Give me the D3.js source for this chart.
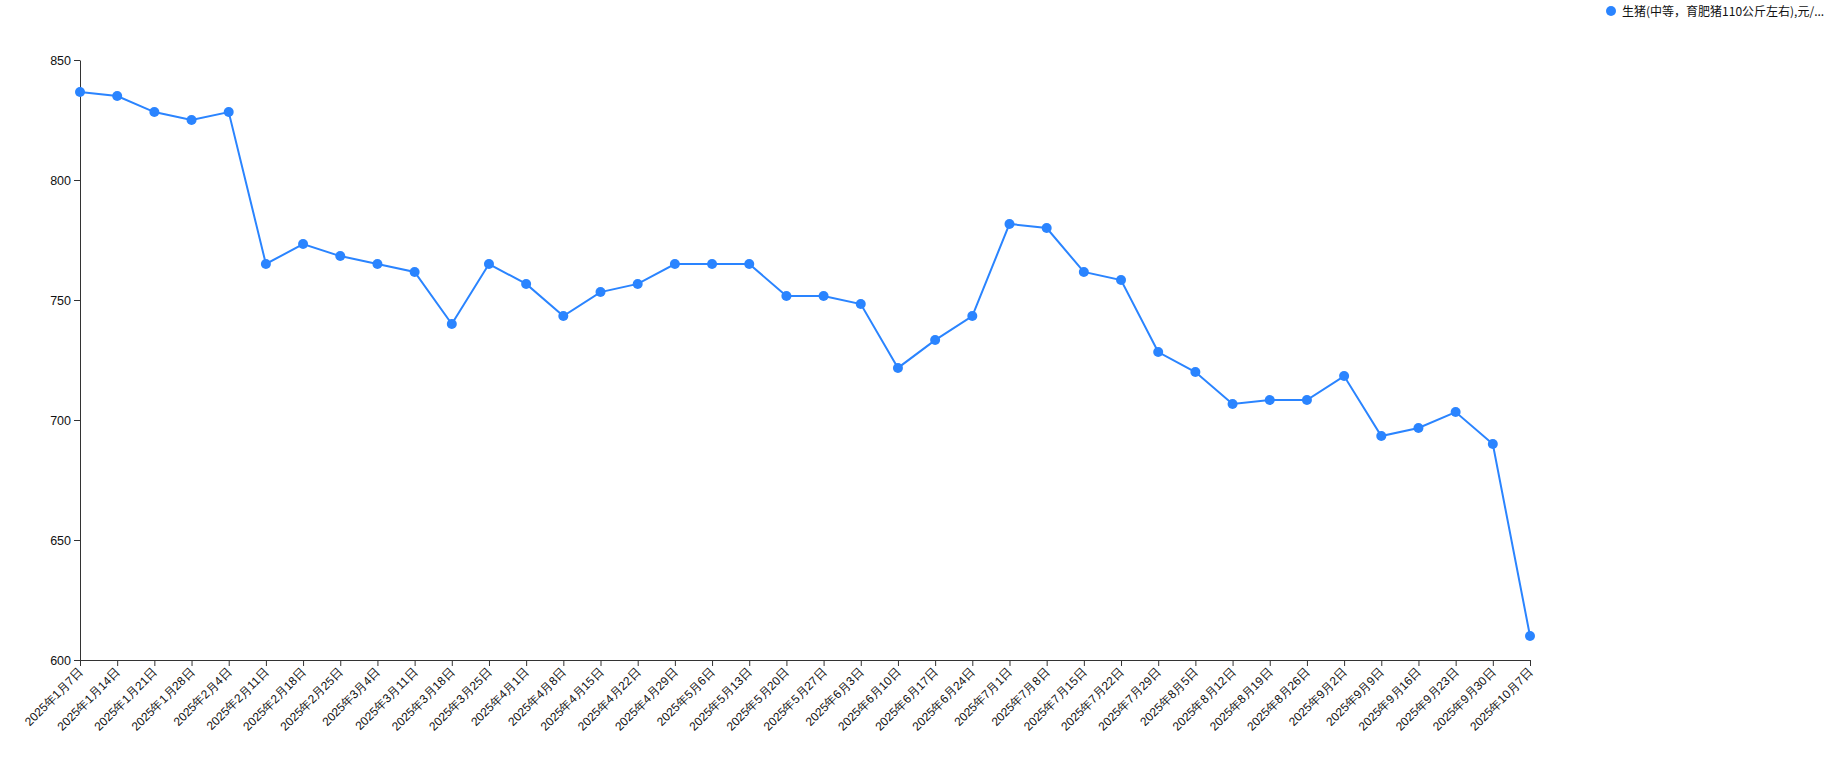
<!DOCTYPE html>
<html>
<head>
<meta charset="utf-8">
<script src="https://cdn.jsdelivr.net/npm/d3@7"></script>
<style>
  html, body { margin: 0; padding: 0; background: #fff; }
  svg { display: block; font-family: "Noto Sans CJK SC", "Noto Sans", sans-serif; }
</style>
</head>
<body>
<svg id="chart" width="1830" height="780"></svg>
<script>
const seriesLabel = "生猪(中等，育肥猪110公斤左右),元/...";
const categories = [
  "2025年1月7日","2025年1月14日","2025年1月21日","2025年1月28日","2025年2月4日",
  "2025年2月11日","2025年2月18日","2025年2月25日","2025年3月4日","2025年3月11日",
  "2025年3月18日","2025年3月25日","2025年4月1日","2025年4月8日","2025年4月15日",
  "2025年4月22日","2025年4月29日","2025年5月6日","2025年5月13日","2025年5月20日",
  "2025年5月27日","2025年6月3日","2025年6月10日","2025年6月17日","2025年6月24日",
  "2025年7月1日","2025年7月8日","2025年7月15日","2025年7月22日","2025年7月29日",
  "2025年8月5日","2025年8月12日","2025年8月19日","2025年8月26日","2025年9月2日",
  "2025年9月9日","2025年9月16日","2025年9月23日","2025年9月30日","2025年10月7日"
];
const values = [
  836.7, 835, 828.3, 825, 828.3,
  765, 773.3, 768.3, 765, 761.7,
  740, 765, 756.7, 743.3, 753.3,
  756.7, 765, 765, 765, 751.7,
  751.7, 748.3, 721.7, 733.3, 743.3,
  781.7, 780, 761.7, 758.3, 728.3,
  720, 706.7, 708.3, 708.3, 718.3,
  693.3, 696.7, 703.3, 690, 610
];
const yTicks = [600, 650, 700, 750, 800, 850];
const yDomain = [600, 850];

const color = "#2a84ff";
const svg = d3.select("#chart");
const xRange = [80, 1530];
const yRange = [660, 60];

const x = d3.scalePoint().domain(categories).range(xRange);
const y = d3.scaleLinear().domain(yDomain).range(yRange);

// Y axis
const yAxis = svg.append("g")
  .attr("transform", `translate(${xRange[0]},0)`)
  .call(d3.axisLeft(y).tickValues(yTicks).tickSize(6).tickPadding(3).tickSizeOuter(0));
yAxis.selectAll("text").attr("font-size", 12.5).attr("fill", "#111");
yAxis.selectAll("line, path").attr("stroke", "#333");

// X axis
const xAxis = svg.append("g")
  .attr("transform", `translate(0,${yRange[0]})`)
  .call(d3.axisBottom(x).tickSize(6).tickSizeOuter(0));
xAxis.selectAll("line, path").attr("stroke", "#333");
xAxis.selectAll("text")
  .attr("font-size", 12)
  .attr("fill", "#111")
  .attr("x", 0).attr("y", 0).attr("dy", 0)
  .attr("text-anchor", "end")
  .attr("transform", "translate(3,13) rotate(-45)");

// Line
const line = d3.line()
  .x((d, i) => x(categories[i]))
  .y(d => y(d));
svg.append("path")
  .datum(values)
  .attr("fill", "none")
  .attr("stroke", color)
  .attr("stroke-width", 2)
  .attr("d", line);

// Points
svg.append("g").selectAll("circle")
  .data(values)
  .join("circle")
  .attr("cx", (d, i) => x(categories[i]))
  .attr("cy", d => y(d))
  .attr("r", 5)
  .attr("fill", color);

// Legend
const legend = svg.append("g").attr("transform", "translate(1611,11)");
legend.append("circle").attr("r", 5).attr("fill", color);
legend.append("text")
  .attr("x", 11).attr("y", 4.5)
  .attr("font-size", 12)
  .attr("fill", "#111")
  .text(seriesLabel);
</script>
</body>
</html>
